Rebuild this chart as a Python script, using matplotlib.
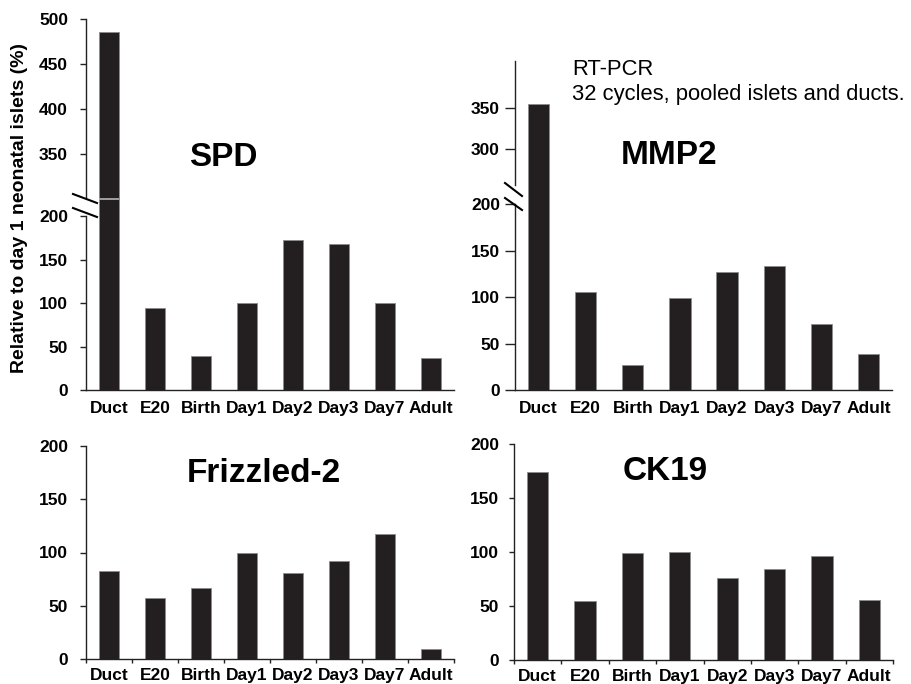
import matplotlib
matplotlib.use('Agg')
import matplotlib.pyplot as plt
from matplotlib.lines import Line2D

plt.rcParams['font.family'] = ['Liberation Sans', 'DejaVu Sans']

groups = ['Duct', 'E20', 'Birth', 'Day1', 'Day2', 'Day3', 'Day7', 'Adult']
spd = [486, 95, 39, 100, 173, 168, 100, 37]
mmp2 = [355, 106, 27, 99, 127, 134, 71, 39]
frizzled2 = [83, 57, 67, 100, 81, 92, 117, 9]
ck19 = [174, 55, 99, 100, 76, 84, 96, 56]

W, H = 911, 684
BAR = '#231f20'
EDGE = '#8c8c8c'
SPINE = '#222222'

fig = plt.figure(figsize=(W / 100, H / 100), dpi=100)


def box(x0, x1, ytop, ybot):
    # pixel box -> figure fraction
    return [x0 / W, 1 - ybot / H, (x1 - x0) / W, (ybot - ytop) / H]


def px(x, y):
    return x / W, 1 - y / H


def style(ax, ticklen_px, pad_px):
    for s in ['top', 'right']:
        ax.spines[s].set_visible(False)
    for s in ['left', 'bottom']:
        ax.spines[s].set_color(SPINE)
        ax.spines[s].set_linewidth(1.0)
    ax.tick_params(axis='y', direction='out', length=ticklen_px * 0.72, width=1,
                   color=SPINE, pad=pad_px * 0.72, labelsize=12.5)
    for lab in ax.get_yticklabels():
        lab.set_fontweight('bold')
    ax.set_xlim(-0.5, 7.5)


def bars(ax, vals):
    ax.bar(range(len(groups)), vals, width=0.45, color=BAR,
           edgecolor=EDGE, linewidth=0.6)


def xlabels(ax, boundary_ticks, pad):
    ax.set_xticks(range(len(groups)))
    ax.set_xticklabels(groups, fontsize=12.5, fontweight='bold')
    ax.tick_params(axis='x', length=0, pad=pad)
    if boundary_ticks:
        ax.set_xticks([i - 0.5 for i in range(len(groups) + 1)], minor=True)
        ax.tick_params(axis='x', which='minor', direction='out', length=3,
                       width=1, color=SPINE)


def brk(p0, p1):
    fig.add_artist(Line2D([p0[0], p1[0]], [p0[1], p1[1]],
                          transform=fig.transFigure, color='black', lw=1.5))


# ---- SPD (top left, broken axis) ----
lo = fig.add_axes(box(86, 454, 199, 390))
bars(lo, spd)
lo.set_ylim(0, 220)
lo.set_yticks([0, 50, 100, 150, 200])
style(lo, 6, 12)
lo.spines['left'].set_bounds(0, 200)
xlabels(lo, False, 8)

up = fig.add_axes(box(86, 454, 19, 199))
bars(up, spd)
up.set_ylim(300, 500)
up.set_yticks([350, 400, 450, 500])
style(up, 6, 12)
up.spines['bottom'].set_visible(False)
up.spines['left'].set_bounds(301, 500)
up.set_xticks([])
up.hlines(300, -0.225, 0.225, color='#b4b4b4', lw=1.2, clip_on=False, zorder=5)

brk(px(73, 194), px(97, 203))
brk(px(73, 208), px(97, 217))

fig.text(*px(223, 157), 'SPD', fontsize=24, fontweight='bold',
         ha='center', va='center')
fig.text(*px(20, 208), 'Relative to day 1 neonatal islets (%)', fontsize=14,
         fontweight='bold', rotation=90, ha='center', va='center')

# ---- MMP2 (top right, broken axis) ----
lo2 = fig.add_axes(box(515, 892, 197, 390))
bars(lo2, mmp2)
lo2.set_ylim(0, 208)
lo2.set_yticks([0, 50, 100, 150, 200])
style(lo2, 10, 5)
lo2.spines['left'].set_bounds(0, 200)
xlabels(lo2, False, 8)

up2 = fig.add_axes(box(515, 892, 61, 197))
bars(up2, mmp2)
up2.set_ylim(241.5, 407.3)
up2.set_yticks([300, 350])
style(up2, 10, 5)
up2.spines['bottom'].set_visible(False)
up2.spines['left'].set_bounds(256, 407.3)
up2.set_xticks([])

brk(px(505, 183), px(522, 196))
brk(px(505, 198), px(522, 210))

fig.text(*px(669, 155), 'MMP2', fontsize=24, fontweight='bold',
         ha='center', va='center')
fig.text(*px(572, 82), 'RT-PCR\n32 cycles, pooled islets and ducts.',
         fontsize=15.8, ha='left', va='center', linespacing=1.3)

# ---- Frizzled-2 (bottom left) ----
ax3 = fig.add_axes(box(86, 454, 446, 659))
bars(ax3, frizzled2)
ax3.set_ylim(0, 200)
ax3.set_yticks([0, 50, 100, 150, 200])
style(ax3, 6, 12)
xlabels(ax3, True, 6.5)
fig.text(*px(264, 473), 'Frizzled-2', fontsize=24, fontweight='bold',
         ha='center', va='center')

# ---- CK19 (bottom right) ----
ax4 = fig.add_axes(box(514, 893, 444, 660))
bars(ax4, ck19)
ax4.set_ylim(0, 200)
ax4.set_yticks([0, 50, 100, 150, 200])
style(ax4, 5, 10)
xlabels(ax4, True, 6.5)
fig.text(*px(665, 472), 'CK19', fontsize=24, fontweight='bold',
         ha='center', va='center')

fig.savefig('out.png', dpi=100)
